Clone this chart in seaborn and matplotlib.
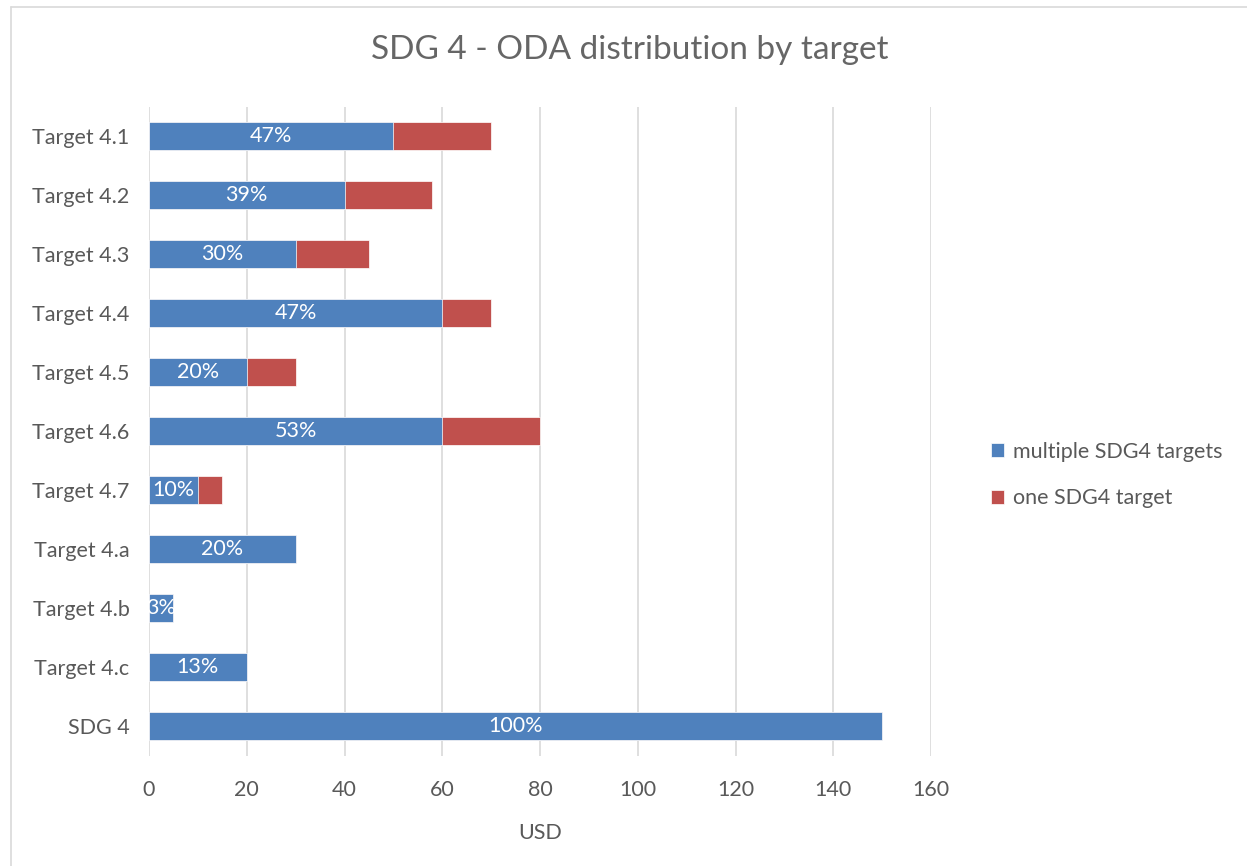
import numpy as np
import pandas as pd
import seaborn as sns
import matplotlib
matplotlib.use("Agg")
import matplotlib.pyplot as plt
from matplotlib.lines import Line2D

targets = ["Target 4.1", "Target 4.2", "Target 4.3", "Target 4.4", "Target 4.5",
           "Target 4.6", "Target 4.7", "Target 4.a", "Target 4.b", "Target 4.c", "SDG 4"]
multiple = [50, 40, 30, 60, 20, 60, 10, 30, 5, 20, 150]
one = [20, 18, 15, 10, 10, 20, 5, 0, 0, 0, 0]
pct_labels = ["47%", "39%", "30%", "47%", "20%", "53%", "10%", "20%", "3%", "13%", "100%"]

blue = "#4F81BD"
red = "#C0504D"
gray = "#595959"

df = pd.DataFrame({"target": targets, "multiple": multiple, "one": one})
df["total"] = df["multiple"] + df["one"]

sns.set_theme(style="white")
plt.rcParams['font.family'] = ['Lato', 'DejaVu Sans']

fig = plt.figure(figsize=(12.47, 8.66), dpi=100)
ax = fig.add_axes([149/1247, 1-755.5/866, (931-149)/1247, (755.5-106.5)/866])

# stacked: draw totals (red) first, then blue segment on top
sns.barplot(data=df, y="target", x="total", color=red, saturation=1, orient="h", width=0.47,
            edgecolor="white", linewidth=0.5, ax=ax, label="one SDG4 target")
sns.barplot(data=df, y="target", x="multiple", color=blue, saturation=1, orient="h", width=0.47,
            edgecolor="white", linewidth=0.5, ax=ax, label="multiple SDG4 targets")

blue_bars = ax.patches[len(targets):]
for bar, lab in zip(blue_bars, pct_labels):
    t = ax.text(bar.get_x() + bar.get_width() / 2, bar.get_y() + bar.get_height() / 2, lab,
                ha="center", va="center", color="white", fontsize=15.5)
    t.set_clip_path(bar)

ax.set_xlim(0, 160)
ax.set_xticks(range(0, 161, 20))
ax.set_ylim(len(targets) - 0.5, -0.5)
ax.grid(True, axis="x", color="#D9D9D9", linewidth=1.2)
ax.grid(False, axis="y")
ax.set_axisbelow(True)
for s in ax.spines.values():
    s.set_visible(False)
ax.tick_params(axis="both", length=0, labelsize=15.5, labelcolor=gray)
ax.tick_params(axis="x", pad=18)
ax.tick_params(axis="y", pad=14)
ax.set_ylabel("")
ax.set_xlabel("USD", fontsize=15.5, color=gray, labelpad=16)

handles, labels = ax.get_legend_handles_labels()
order = [labels.index("multiple SDG4 targets"), labels.index("one SDG4 target")]
ax.legend([handles[i] for i in order], [labels[i] for i in order],
          loc="center left", bbox_to_anchor=(972/1247, 1-475/866), bbox_transform=fig.transFigure,
          frameon=False, fontsize=15.5, labelcolor=gray, handlelength=0.6, handleheight=0.6,
          handletextpad=0.4, labelspacing=1.25)

fig.text(630/1247, 1-50/866, "SDG 4 - ODA distribution by target", ha="center", va="center",
         fontsize=24, color="#666666")

# chart border
fig.add_artist(Line2D([11/1247, 11/1247], [0, 1-7/866], transform=fig.transFigure,
                      color="#D9D9D9", linewidth=1.2))
fig.add_artist(Line2D([11/1247, 1], [1-7/866, 1-7/866], transform=fig.transFigure,
                      color="#D9D9D9", linewidth=1.2))

fig.savefig("out.png", dpi=100)
